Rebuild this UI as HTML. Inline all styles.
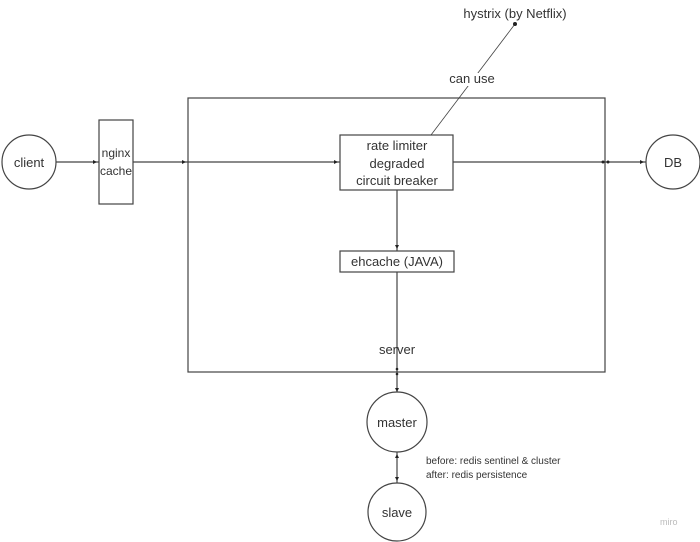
<!DOCTYPE html>
<html><head><style>body{margin:0;background:#fff}svg{display:block}text{font-family:"Liberation Sans",sans-serif;fill:#333}</style></head><body>
<svg width="700" height="542" viewBox="0 0 700 542">
<g stroke="#444" stroke-width="1.2" fill="none">
<circle cx="29" cy="162" r="27" fill="#fff"/>
<rect x="99" y="120" width="34" height="84"/>
<rect x="188" y="98" width="417" height="274"/>
<rect x="340" y="135" width="113" height="55"/>
<rect x="340" y="251" width="114" height="21"/>
<circle cx="673" cy="162" r="27"/>
<circle cx="397" cy="422" r="30"/>
<circle cx="397" cy="512" r="29"/>
<line x1="56" y1="162" x2="99" y2="162"/>
<line x1="133" y1="162" x2="188" y2="162"/>
<line x1="188" y1="162" x2="340" y2="162"/>
<line x1="453" y1="162" x2="646" y2="162"/>
<line x1="397" y1="190" x2="397" y2="251"/>
<line x1="397" y1="272" x2="397" y2="392"/>
<line x1="397" y1="452" x2="397" y2="483"/>
<line x1="431" y1="135" x2="515" y2="24" stroke-width="0.8"/>
</g>
<g fill="#222">
<circle cx="515" cy="24" r="2"/>
<circle cx="603" cy="162" r="1.5"/><circle cx="608" cy="162" r="1.5"/>
<path d="M97 162l-4-2v4z"/><path d="M186 162l-4-2v4z"/><path d="M338 162l-4-2v4z"/><path d="M644 162l-4-2v4z"/>
<path d="M397 249l-2-4h4z"/><path d="M397 392l-2-4h4z"/><path d="M397 481l-2-4h4z"/><path d="M397 454l-2 4h4z"/>
<circle cx="397" cy="369" r="1.3"/><circle cx="397" cy="374" r="1.3"/>
</g>
<g font-size="13" text-anchor="middle">
<text x="29" y="167">client</text>
<text x="116" y="157" font-size="12">nginx</text><text x="116" y="175" font-size="12">cache</text>
<text x="397" y="150">rate limiter</text><text x="397" y="168">degraded</text><text x="397" y="185">circuit breaker</text>
<text x="397" y="266">ehcache (JAVA)</text>
<text x="397" y="354">server</text>
<text x="673" y="167">DB</text>
<text x="397" y="427">master</text>
<text x="397" y="517">slave</text>
<text x="472" y="83" style="fill:#333;stroke:#fff;stroke-width:6;paint-order:stroke">can use</text>
<text x="515" y="18">hystrix (by Netflix)</text>
</g>
<g font-size="10"><text x="426" y="464">before: redis sentinel &amp; cluster</text><text x="426" y="478">after: redis persistence</text></g>
<text x="660" y="525" font-size="9" style="fill:#bbb">miro</text>
</svg>
</body></html>
